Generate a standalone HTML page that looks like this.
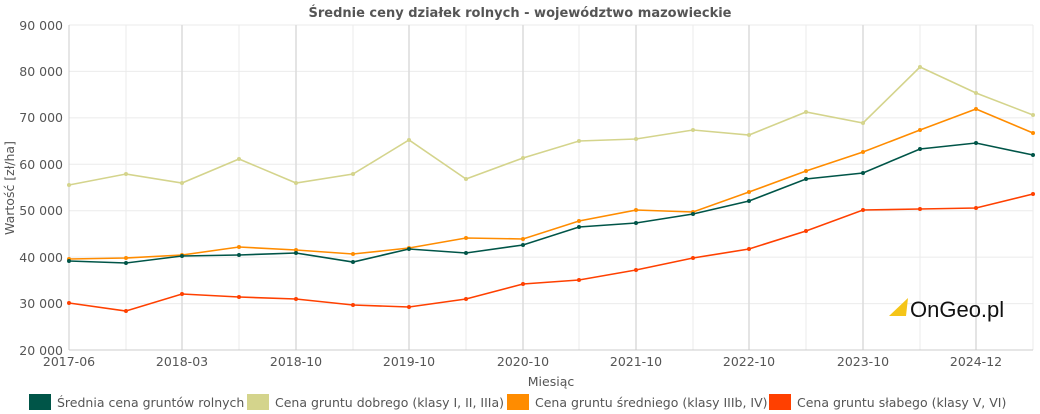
<!DOCTYPE html>
<html><head><meta charset="utf-8"><style>
body{margin:0;background:#fff;width:1040px;height:414px;overflow:hidden}
svg{display:block;font-family:"DejaVu Sans","Liberation Sans",sans-serif}
</style></head><body>
<svg width="1040" height="414" viewBox="0 0 1040 414">
<text x="520" y="17" text-anchor="middle" font-size="13" font-weight="bold" fill="#555">Średnie ceny działek rolnych - województwo mazowieckie</text>
<g stroke="#ebebeb" stroke-width="1">
<line x1="69" y1="25" x2="1033" y2="25"/><line x1="69" y1="71.4" x2="1033" y2="71.4"/><line x1="69" y1="117.9" x2="1033" y2="117.9"/><line x1="69" y1="164.3" x2="1033" y2="164.3"/><line x1="69" y1="210.7" x2="1033" y2="210.7"/><line x1="69" y1="257.1" x2="1033" y2="257.1"/><line x1="69" y1="303.6" x2="1033" y2="303.6"/>
<line x1="126" y1="25" x2="126" y2="350"/><line x1="239" y1="25" x2="239" y2="350"/><line x1="353" y1="25" x2="353" y2="350"/><line x1="466" y1="25" x2="466" y2="350"/><line x1="579" y1="25" x2="579" y2="350"/><line x1="693" y1="25" x2="693" y2="350"/><line x1="806" y1="25" x2="806" y2="350"/><line x1="920" y1="25" x2="920" y2="350"/><line x1="1033" y1="25" x2="1033" y2="350"/>
</g>
<g stroke="#dcdcdc" stroke-width="1.5">
<line x1="182" y1="25" x2="182" y2="350"/><line x1="296" y1="25" x2="296" y2="350"/><line x1="409" y1="25" x2="409" y2="350"/><line x1="523" y1="25" x2="523" y2="350"/><line x1="636" y1="25" x2="636" y2="350"/><line x1="749" y1="25" x2="749" y2="350"/><line x1="863" y1="25" x2="863" y2="350"/><line x1="976" y1="25" x2="976" y2="350"/>
</g>
<line x1="69" y1="25" x2="69" y2="350" stroke="#ccc"/>
<line x1="69" y1="350" x2="1033" y2="350" stroke="#ccc"/>
<g font-size="12.5" fill="#555" text-anchor="end">
<text x="63" y="30">90 000</text><text x="63" y="76">80 000</text><text x="63" y="122">70 000</text><text x="63" y="169">60 000</text><text x="63" y="215">50 000</text><text x="63" y="262">40 000</text><text x="63" y="308">30 000</text><text x="63" y="355">20 000</text>
</g>
<g font-size="12.5" fill="#555" text-anchor="middle">
<text x="69" y="366">2017-06</text><text x="182" y="366">2018-03</text><text x="296" y="366">2018-10</text><text x="409" y="366">2019-10</text><text x="523" y="366">2020-10</text><text x="636" y="366">2021-10</text><text x="749" y="366">2022-10</text><text x="863" y="366">2023-10</text><text x="976" y="366">2024-12</text>
<text x="551" y="386">Miesiąc</text>
</g>
<text transform="translate(14,188) rotate(-90)" font-size="12.5" fill="#555" text-anchor="middle">Wartość [zł/ha]</text>
<g fill="none" stroke-width="1.6">
<polyline stroke="#d4d48c" points="69,185 126,174 182,183 239,159 296,183 353,174 409,140 466,179 523,158 579,141 636,139 693,130 749,135 806,112 863,123 920,67 976,93 1033,115"/>
<polyline stroke="#ff8c00" points="69,259 126,258 182,255 239,247 296,250 353,254 409,248 466,238 523,239 579,221 636,210 693,212 749,192 806,171 863,152 920,130 976,109 1033,133"/>
<polyline stroke="#005548" points="69,261 126,263 182,256 239,255 296,253 353,262 409,249 466,253 523,245 579,227 636,223 693,214 749,201 806,179 863,173 920,149 976,143 1033,155"/>
<polyline stroke="#ff4000" points="69,303 126,311 182,294 239,297 296,299 353,305 409,307 466,299 523,284 579,280 636,270 693,258 749,249 806,231 863,210 920,209 976,208 1033,194"/>
</g>
<g fill="#d4d48c"><circle cx="69" cy="185" r="2"/><circle cx="126" cy="174" r="2"/><circle cx="182" cy="183" r="2"/><circle cx="239" cy="159" r="2"/><circle cx="296" cy="183" r="2"/><circle cx="353" cy="174" r="2"/><circle cx="409" cy="140" r="2"/><circle cx="466" cy="179" r="2"/><circle cx="523" cy="158" r="2"/><circle cx="579" cy="141" r="2"/><circle cx="636" cy="139" r="2"/><circle cx="693" cy="130" r="2"/><circle cx="749" cy="135" r="2"/><circle cx="806" cy="112" r="2"/><circle cx="863" cy="123" r="2"/><circle cx="920" cy="67" r="2"/><circle cx="976" cy="93" r="2"/><circle cx="1033" cy="115" r="2"/></g>
<g fill="#ff8c00"><circle cx="69" cy="259" r="2"/><circle cx="126" cy="258" r="2"/><circle cx="182" cy="255" r="2"/><circle cx="239" cy="247" r="2"/><circle cx="296" cy="250" r="2"/><circle cx="353" cy="254" r="2"/><circle cx="409" cy="248" r="2"/><circle cx="466" cy="238" r="2"/><circle cx="523" cy="239" r="2"/><circle cx="579" cy="221" r="2"/><circle cx="636" cy="210" r="2"/><circle cx="693" cy="212" r="2"/><circle cx="749" cy="192" r="2"/><circle cx="806" cy="171" r="2"/><circle cx="863" cy="152" r="2"/><circle cx="920" cy="130" r="2"/><circle cx="976" cy="109" r="2"/><circle cx="1033" cy="133" r="2"/></g>
<g fill="#005548"><circle cx="69" cy="261" r="2"/><circle cx="126" cy="263" r="2"/><circle cx="182" cy="256" r="2"/><circle cx="239" cy="255" r="2"/><circle cx="296" cy="253" r="2"/><circle cx="353" cy="262" r="2"/><circle cx="409" cy="249" r="2"/><circle cx="466" cy="253" r="2"/><circle cx="523" cy="245" r="2"/><circle cx="579" cy="227" r="2"/><circle cx="636" cy="223" r="2"/><circle cx="693" cy="214" r="2"/><circle cx="749" cy="201" r="2"/><circle cx="806" cy="179" r="2"/><circle cx="863" cy="173" r="2"/><circle cx="920" cy="149" r="2"/><circle cx="976" cy="143" r="2"/><circle cx="1033" cy="155" r="2"/></g>
<g fill="#ff4000"><circle cx="69" cy="303" r="2"/><circle cx="126" cy="311" r="2"/><circle cx="182" cy="294" r="2"/><circle cx="239" cy="297" r="2"/><circle cx="296" cy="299" r="2"/><circle cx="353" cy="305" r="2"/><circle cx="409" cy="307" r="2"/><circle cx="466" cy="299" r="2"/><circle cx="523" cy="284" r="2"/><circle cx="579" cy="280" r="2"/><circle cx="636" cy="270" r="2"/><circle cx="693" cy="258" r="2"/><circle cx="749" cy="249" r="2"/><circle cx="806" cy="231" r="2"/><circle cx="863" cy="210" r="2"/><circle cx="920" cy="209" r="2"/><circle cx="976" cy="208" r="2"/><circle cx="1033" cy="194" r="2"/></g>
<polygon points="889,316 908,298 906,316" fill="#f5c518"/>
<text x="910" y="317" font-size="22" fill="#111" font-family="'Liberation Sans',sans-serif">OnGeo.pl</text>
<g font-size="12.5" fill="#555">
<rect x="29" y="394" width="22" height="16" fill="#005548"/><text x="57" y="407">Średnia cena gruntów rolnych</text>
<rect x="247" y="394" width="22" height="16" fill="#d4d48c"/><text x="275" y="407">Cena gruntu dobrego (klasy I, II, IIIa)</text>
<rect x="507" y="394" width="22" height="16" fill="#ff8c00"/><text x="535" y="407">Cena gruntu średniego (klasy IIIb, IV)</text>
<rect x="769" y="394" width="22" height="16" fill="#ff4000"/><text x="797" y="407">Cena gruntu słabego (klasy V, VI)</text>
</g>
</svg>
</body></html>
